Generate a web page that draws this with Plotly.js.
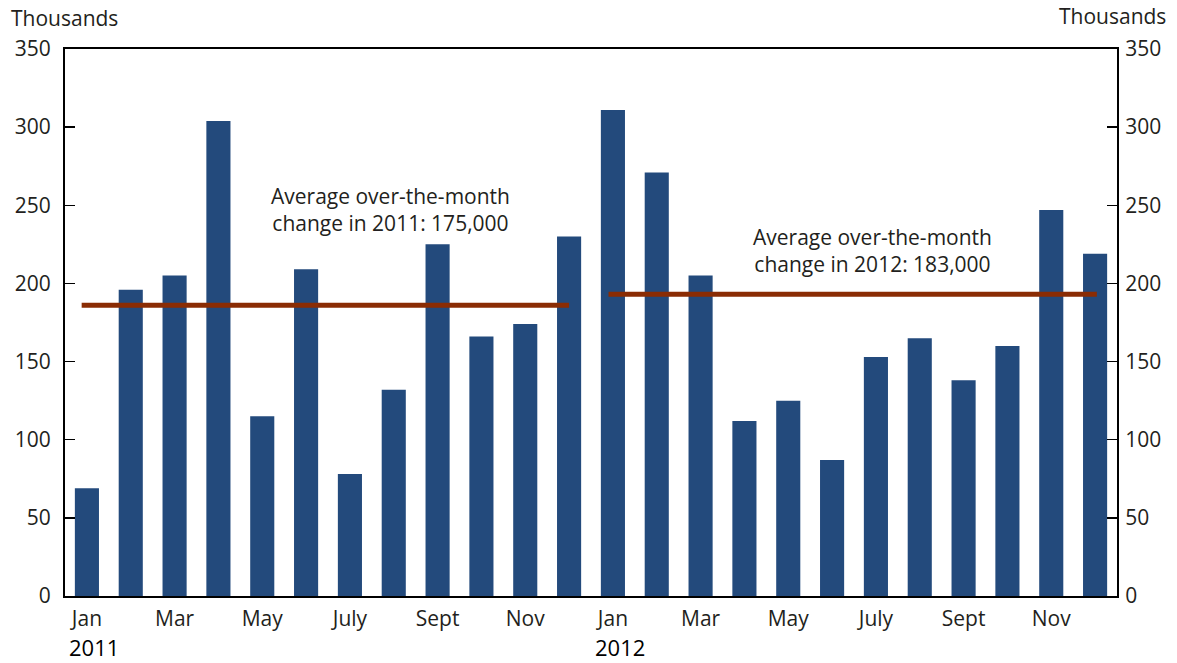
<!DOCTYPE html>
<html>
<head>
<meta charset="utf-8">
<script src="https://cdn.plot.ly/plotly-3.0.1.min.js"></script>
<style>html,body{margin:0;padding:0;background:#fff;}#chart{width:1177px;height:663px;}</style>
</head>
<body>
<div id="chart"></div>
<script>
const months = ["Jan","Feb","Mar","Apr","May","June","July","Aug","Sept","Oct","Nov","Dec",
                "Jan","Feb","Mar","Apr","May","June","July","Aug","Sept","Oct","Nov","Dec"];
const changes = [69,196,205,304,115,209,78,132,225,166,174,230,
                 311,271,205,112,125,87,153,165,138,160,247,219];
const tickIdx = [0,2,4,6,8,10,12,14,16,18,20,22];
const tickLabels = ["Jan","Mar","May","July","Sept","Nov","Jan","Mar","May","July","Sept","Nov"];
const yearLabels = ["2011","2012"];
const yearIdx = [0,12];
const avg2011X = [-0.12, 11.0];
const avg2011Y = [186, 186];
const avg2012X = [11.9, 23.04];
const avg2012Y = [193, 193];
const avgText2011 = "Average over-the-month<br>change in 2011: 175,000";
const avgText2012 = "Average over-the-month<br>change in 2012: 183,000";
const yTicks = [0,50,100,150,200,250,300,350];

const font = "Open Sans, Noto Sans, sans-serif";
const txt = "#231F20";
const idx = changes.map((_, i) => i);

const traces = [
  {type:"bar", x: idx, y: changes, width:0.55, marker:{color:"#234A7C", line:{width:0}}, hoverinfo:"skip", showlegend:false},
  {type:"scatter", mode:"lines", x: avg2011X, y: avg2011Y, line:{color:"#8A2C04", width:5}, showlegend:false},
  {type:"scatter", mode:"lines", x: avg2012X, y: avg2012Y, line:{color:"#8A2C04", width:5}, showlegend:false},
  {type:"scatter", mode:"markers", x:[0], y:[0], yaxis:"y2", marker:{opacity:0}, showlegend:false, hoverinfo:"skip"}
];

const annotations = [
  {xref:"x", yref:"y", x:6.92, y:247, text:avgText2011, showarrow:false, xanchor:"center", yanchor:"middle", align:"center", font:{family:font, size:21, color:txt}},
  {xref:"x", yref:"y", x:17.93, y:221, text:avgText2012, showarrow:false, xanchor:"center", yanchor:"middle", align:"center", font:{family:font, size:21, color:txt}},
  {xref:"paper", yref:"paper", x:-0.053, y:1.057, text:"Thousands", showarrow:false, xanchor:"left", yanchor:"middle", font:{family:font, size:21, color:txt}},
  {xref:"paper", yref:"paper", x:1.0485, y:1.06, text:"Thousands", showarrow:false, xanchor:"right", yanchor:"middle", font:{family:font, size:21, color:txt}}
];
yearIdx.forEach((xi, k) => {
  annotations.push({xref:"x", yref:"paper", x:xi, y:-0.094, text:yearLabels[k], showarrow:false, xanchor:"center", yanchor:"middle", xshift:7, font:{family:font, size:22, color:"#000"}});
});

const layout = {
  width:1177, height:663,
  margin:{l:65, r:60, t:49, b:67},
  paper_bgcolor:"#fff", plot_bgcolor:"#fff",
  font:{family:font, size:21, color:txt},
  xaxis:{range:[-0.5,23.5], tickmode:"array", tickvals:tickIdx, ticktext:tickLabels, ticks:"", showgrid:false, zeroline:false,
         showline:true, mirror:true, linecolor:"#000", linewidth:2, ticklabelstandoff:3, tickfont:{family:font, size:21, color:txt}},
  yaxis:{range:[0,350], tickmode:"array", tickvals:yTicks, ticks:"inside", ticklen:10, tickwidth:1.5, tickcolor:"#000",
         showgrid:false, zeroline:false, showline:true, linecolor:"#000", linewidth:2, ticklabelstandoff:8, tickfont:{family:font, size:21, color:txt}},
  yaxis2:{range:[0,350], overlaying:"y", side:"right", tickmode:"array", tickvals:yTicks, ticks:"inside", ticklen:10, tickwidth:1.5, tickcolor:"#000",
         showgrid:false, zeroline:false, showline:true, linecolor:"#000", linewidth:2, ticklabelstandoff:2, tickfont:{family:font, size:21, color:txt}},
  annotations: annotations
};

Plotly.newPlot("chart", traces, layout, {displayModeBar:false, staticPlot:true});
</script>
</body>
</html>
